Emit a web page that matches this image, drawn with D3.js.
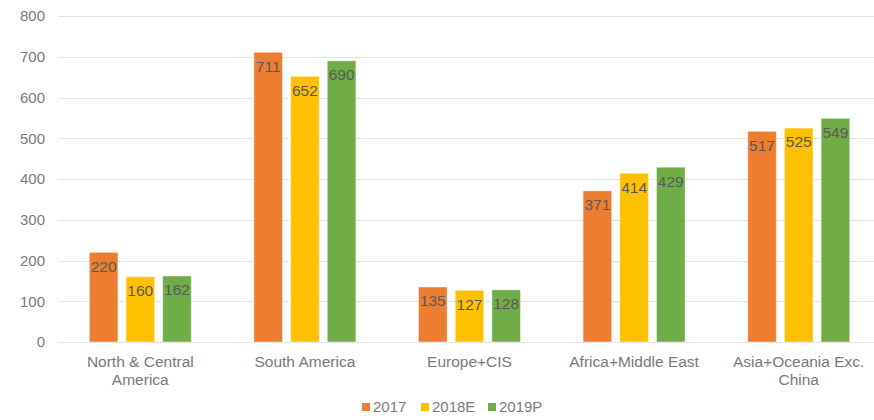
<!DOCTYPE html>
<html>
<head>
<meta charset="utf-8">
<script src="https://cdn.jsdelivr.net/npm/d3@7"></script>
<style>
  body { margin: 0; background: #fff; }
  svg text { font-family: "Liberation Sans", Arial, sans-serif; }
</style>
</head>
<body>
<svg id="chart" width="874" height="420"></svg>
<script>
// data
const regions = ["North & Central America", "South America", "Europe+CIS", "Africa+Middle East", "Asia+Oceania Exc. China"]
const regionLines = [["North & Central", "America"], ["South America"], ["Europe+CIS"], ["Africa+Middle East"], ["Asia+Oceania Exc.", "China"]]
const series = ["2017", "2018E", "2019P"]
const v2017 = [220, 711, 135, 371, 517]
const v2018 = [160, 652, 127, 414, 525]
const v2019 = [162, 690, 128, 429, 549]
const yTicks = [0, 100, 200, 300, 400, 500, 600, 700, 800]

const colors = ["#ED7D31", "#FFC000", "#70AD47"]
const values = [v2017, v2018, v2019]

const svg = d3.select("#chart")

// scales
const x0 = d3.scaleBand()
             .domain(regions)
             .range([58, 881])

const x1 = d3.scaleBand()
             .domain(series)
             .range([-51, 51])
             .paddingInner(0.22)

const y = d3.scaleLinear()
            .domain([0, 800])
            .range([342, 16])

const color = d3.scaleOrdinal().domain(series).range(colors)

// gridlines
svg.append("g")
   .selectAll("line")
   .data(yTicks)
   .enter()
   .append("line")
   .attr("x1", 58)
   .attr("x2", 874)
   .attr("y1", d => Math.round(y(d)) + 0.5)
   .attr("y2", d => Math.round(y(d)) + 0.5)
   .attr("stroke", "#e2e2e2")
   .attr("stroke-width", 1)

// y axis labels
const yAxis = d3.axisLeft(y)
                .tickValues(yTicks)
                .tickSize(0)
                .tickPadding(0)

svg.append("g")
   .attr("transform", "translate(45,0)")
   .call(yAxis)
   .call(g => g.select(".domain").remove())
   .selectAll("text")
   .attr("fill", "#7a7a7a")
   .style("font-size", "15px")

// bars
const rows = []
regions.forEach((r, i) => {
  series.forEach((s, j) => {
    rows.push({region: r, series: s, value: values[j][i]})
  })
})

const groups = svg.append("g")
                  .selectAll("g")
                  .data(rows)
                  .enter()
                  .append("g")
                  .attr("transform", d => `translate(${x0(d.region) + x0.bandwidth() / 2},0)`)

groups.append("rect")
      .attr("x", d => x1(d.series))
      .attr("y", d => y(d.value))
      .attr("width", x1.bandwidth())
      .attr("height", d => y(0) - y(d.value))
      .attr("fill", d => color(d.series))
      .attr("stroke", "rgba(255,255,255,0.45)")
      .attr("stroke-width", 1)

groups.append("text")
      .attr("x", d => x1(d.series) + x1.bandwidth() / 2)
      .attr("y", d => y(d.value) + 14)
      .attr("dy", "0.35em")
      .attr("text-anchor", "middle")
      .attr("fill", "#595959")
      .style("font-size", "15.5px")
      .text(d => d.value)

// category labels
const cat = svg.append("g")
               .selectAll("text")
               .data(regions)
               .enter()
               .append("text")
               .attr("x", d => x0(d) + x0.bandwidth() / 2)
               .attr("y", 367)
               .attr("text-anchor", "middle")
               .attr("fill", "#7a7a7a")
               .style("font-size", "15.5px")

cat.selectAll("tspan")
   .data((d, i) => regionLines[i])
   .enter()
   .append("tspan")
   .attr("x", function () { return d3.select(this.parentNode).attr("x") })
   .attr("dy", (d, i) => i === 0 ? 0 : 18)
   .text(d => d)

// legend
const legendX = [362, 421, 488]
const legend = svg.append("g")
                  .selectAll("g")
                  .data(series)
                  .enter()
                  .append("g")
                  .attr("transform", (d, i) => `translate(${legendX[i]},403)`)

legend.append("rect")
      .attr("width", 8)
      .attr("height", 8)
      .attr("fill", d => color(d))

legend.append("text")
      .attr("x", 11)
      .attr("y", 4)
      .attr("dy", "0.35em")
      .attr("fill", "#7a7a7a")
      .style("font-size", "15px")
      .text(d => d)
</script>
</body>
</html>
